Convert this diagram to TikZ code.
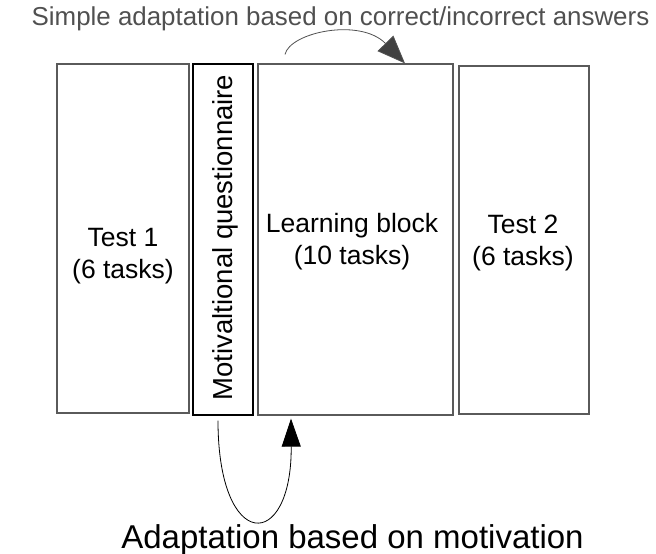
\documentclass[tikz,border=0pt]{standalone}
\usepackage{fontspec}
\setmainfont{Liberation Sans}
\usetikzlibrary{arrows.meta,calc}
\definecolor{framegray}{HTML}{5A5A5A}
\definecolor{titlegray}{HTML}{505050}
\definecolor{headgray}{HTML}{404040}
\begin{document}
\begin{tikzpicture}[x=1pt,y=-1pt,
  block/.style={draw=framegray,line width=1.2pt,rectangle,inner sep=0pt},
  label/.style={font=\fontsize{26.5}{32}\selectfont,align=center,inner sep=0pt},
  loop/.style={line width=0.8pt}]
  \path[use as bounding box] (0,0) rectangle (656,554);

  % the four blocks of the session
  \node[block,minimum width=132pt,minimum height=349pt] (test1) at (123,238.5) {};
  \node[block,draw=black,line width=1.4pt,minimum width=60pt,minimum height=351pt] (mot) at (223,239.5) {};
  \node[block,minimum width=195pt,minimum height=351pt] (learn) at (355.5,239.5) {};
  \node[block,minimum width=130pt,minimum height=348pt] (test2) at (524,240) {};

  % block captions
  \node[label] (t1text) at (123,256) {Test 1\\(6 tasks)};
  \node[label,font=\fontsize{27.5}{32}\selectfont,rotate=90] (mottext) at (225,237.5) {Motivaltional questionnaire};
  \node[label] (ltext) at (352,242) {Learning block\\(10 tasks)};
  \node[label] (t2text) at (523,243) {Test 2\\(6 tasks)};

  % headings of the two adaptation loops
  \node[font=\fontsize{25.9}{30}\selectfont,text=titlegray,anchor=base,inner sep=0pt] (toptitle) at (340.5,25) {Simple adaptation based on correct/incorrect answers};
  \node[font=\fontsize{33}{36}\selectfont,anchor=base,inner sep=0pt] (bottitle) at (352.5,548) {Adaptation based on motivation};

  % loop over the learning block
  \coordinate (ltail) at ($(learn.north)+(-70.5,-9)$);
  \coordinate (lhead) at ($(learn.north)+(49.5,0)$);
  \draw[loop,draw=titlegray,-{Triangle[length=28pt,width=22pt,fill=headgray]}]
    (ltail) .. controls +(5,-22) and +(-45,-46) .. (lhead);

  % loop from the questionnaire into the learning block
  \coordinate (mtail) at ($(mot.south)+(-5,5)$);
  \coordinate (mhead) at ($(learn.south)+(-64.5,3)$);
  \draw[loop,-{Triangle[length=28pt,width=19pt]}]
    (mtail) .. controls +(0,132) and +(1,134) .. (mhead);
\end{tikzpicture}
\end{document}
